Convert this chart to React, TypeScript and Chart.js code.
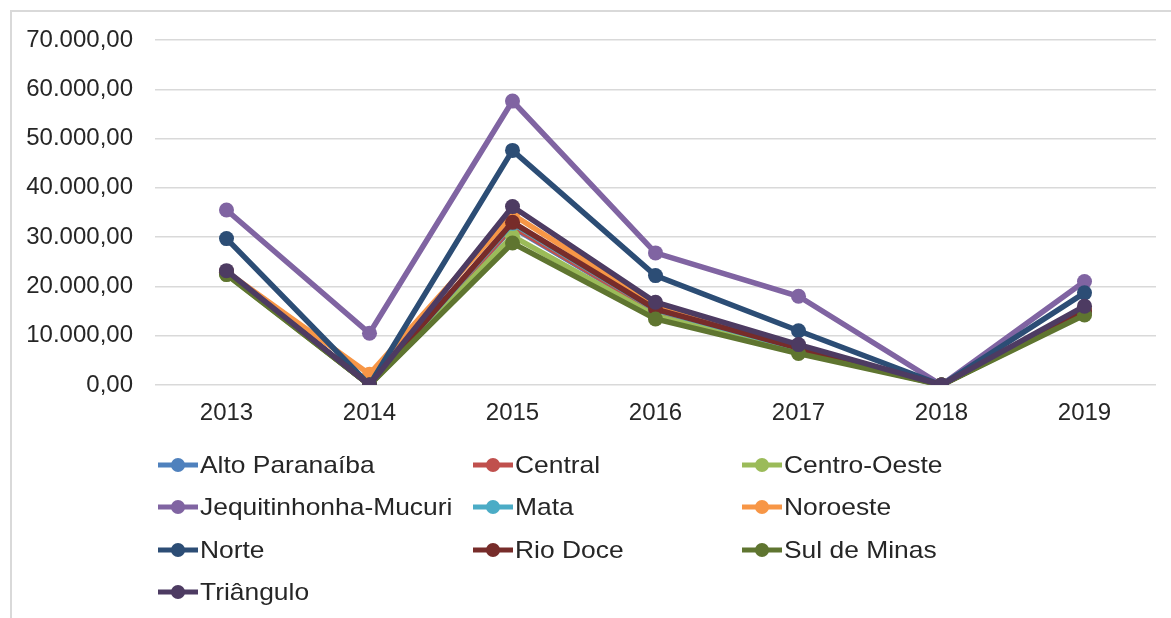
import React, { useEffect, useRef } from "react";
import { Chart, registerables } from "chart.js";

Chart.register(...registerables);

const years = ["2013", "2014", "2015", "2016", "2017", "2018", "2019"];

const seriesNames = [
  "Alto Paranaíba",
  "Central",
  "Centro-Oeste",
  "Jequitinhonha-Mucuri",
  "Mata",
  "Noroeste",
  "Norte",
  "Rio Doce",
  "Sul de Minas",
  "Triângulo",
];

const altoParanaiba = [22700, 0, 32000, 14800, 7200, 0, 14700];
const central = [22800, 0, 32200, 15000, 7300, 0, 14800];
const centroOeste = [22500, 0, 30200, 14000, 6800, 0, 14500];
const jequitinhonhaMucuri = [35500, 10500, 57600, 26800, 18000, 0, 21000];
const mata = [22800, 0, 32800, 15300, 7400, 0, 14900];
const noroeste = [23000, 2200, 34600, 16200, 7800, 0, 15500];
const norte = [29700, 0, 47600, 22200, 11000, 0, 18700];
const rioDoce = [22900, 0, 33000, 15400, 7500, 0, 15000];
const sulDeMinas = [22400, 0, 28800, 13400, 6400, 0, 14200];
const triangulo = [23200, 0, 36200, 16800, 8200, 0, 16000];

const seriesValues = [
  altoParanaiba,
  central,
  centroOeste,
  jequitinhonhaMucuri,
  mata,
  noroeste,
  norte,
  rioDoce,
  sulDeMinas,
  triangulo,
];

const seriesColors = [
  "#4F81BD",
  "#C0504D",
  "#9BBB59",
  "#8064A2",
  "#4BACC6",
  "#F79646",
  "#2C4D75",
  "#772C2A",
  "#5F7530",
  "#4D3B62",
];

const yTicks = [0, 10000, 20000, 30000, 40000, 50000, 60000, 70000];

const FONT = "'Liberation Sans', Arial, sans-serif";
const TEXT = "#262626";

function fmt(v: number): string {
  const intPart = Math.round(v).toString().replace(/\B(?=(\d{3})+(?!\d))/g, ".");
  return intPart + ",00";
}

const legendPlugin = {
  id: "customLegend",
  afterDraw(chart: any) {
    const ctx = chart.ctx as CanvasRenderingContext2D;
    const colX = [158, 473, 742];
    const rowY = [465, 507, 550, 592];
    const lineLen = 40;
    ctx.save();
    ctx.font = `24px ${FONT}`;
    ctx.textBaseline = "middle";
    ctx.textAlign = "left";
    chart.data.datasets.forEach((ds: any, i: number) => {
      const col = i % 3;
      const row = Math.floor(i / 3);
      const x = colX[col];
      const y = rowY[row];
      ctx.strokeStyle = ds.borderColor;
      ctx.lineWidth = 5;
      ctx.lineCap = "butt";
      ctx.beginPath();
      ctx.moveTo(x, y);
      ctx.lineTo(x + lineLen, y);
      ctx.stroke();
      ctx.fillStyle = ds.borderColor;
      ctx.beginPath();
      ctx.arc(x + lineLen / 2, y, 7, 0, Math.PI * 2);
      ctx.fill();
      ctx.fillStyle = TEXT;
      ctx.save();
      ctx.translate(x + lineLen + 2, y + 1);
      ctx.scale(1.1, 1);
      ctx.fillText(ds.label, 0, 0);
      ctx.restore();
    });
    ctx.restore();
  },
};

export default function App() {
  const canvasRef = useRef<HTMLCanvasElement | null>(null);

  useEffect(() => {
    if (!canvasRef.current) return;
    const chart = new Chart(canvasRef.current, {
      type: "line",
      data: {
        labels: years,
        datasets: seriesNames.map((name, i) => ({
          label: name,
          data: seriesValues[i],
          borderColor: seriesColors[i],
          backgroundColor: seriesColors[i],
          pointBackgroundColor: seriesColors[i],
          pointBorderColor: seriesColors[i],
          borderWidth: 5.5,
          pointRadius: 7.5,
          pointBorderWidth: 0,
          tension: 0,
          fill: false,
          order: seriesNames.length - i,
        })),
      },
      options: {
        responsive: false,
        animation: false,
        layout: { padding: { left: 0, top: 40, right: 15, bottom: 188 } },
        plugins: {
          legend: { display: false },
          tooltip: { enabled: false },
        },
        scales: {
          x: {
            type: "category",
            offset: true,
            grid: { display: false, drawTicks: false },
            border: { display: false },
            ticks: {
              font: { family: FONT, size: 24 },
              color: TEXT,
              padding: 14,
              maxRotation: 0,
            },
            afterFit: (scale: any) => {
              scale.height = 45;
            },
          },
          y: {
            min: 0,
            max: 70000,
            afterBuildTicks: (scale: any) => {
              scale.ticks = yTicks.map((v) => ({ value: v }));
            },
            grid: { color: "#d9d9d9", lineWidth: 1.5, drawTicks: false },
            border: { display: false },
            ticks: {
              font: { family: FONT, size: 24 },
              color: TEXT,
              padding: 22,
              callback: (v: any) => fmt(Number(v)),
            },
            afterFit: (scale: any) => {
              scale.width = 155;
            },
          },
        },
      },
      plugins: [legendPlugin],
    });
    return () => chart.destroy();
  }, []);

  return (
    <div
      style={{
        position: "fixed",
        left: 0,
        top: 0,
        width: 1171,
        height: 618,
        background: "#ffffff",
        overflow: "hidden",
      }}
    >
      <div
        style={{
          position: "absolute",
          left: 10,
          top: 10,
          width: 1200,
          height: 700,
          borderLeft: "2px solid #d9d9d9",
          borderTop: "2px solid #d9d9d9",
          boxSizing: "border-box",
        }}
      />
      <canvas
        ref={canvasRef}
        width={1171}
        height={618}
        style={{ position: "absolute", left: 0, top: 0, width: 1171, height: 618 }}
      />
    </div>
  );
}
